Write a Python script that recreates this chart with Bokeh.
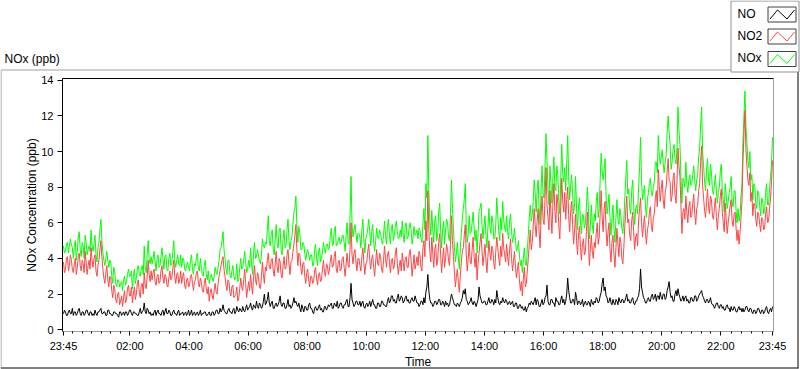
from bokeh.plotting import figure
from bokeh.models import Range1d, FixedTicker, Label
from bokeh.embed import file_html
from bokeh.resources import INLINE

# ---------------- data ----------------
minutes = list(range(0, 1441, 2))  # minutes after 23:45, 2-minute samples

no2 = [
    3.8, 3.2, 3.4, 4.0, 4.1, 3.3, 3.6, 4.2, 3.9, 3.4, 3.2, 3.7, 4.0, 3.1, 3.5, 4.1, 4.3, 3.6, 3.3, 3.9, 3.7, 3.2, 4.4, 3.8, 3.1, 3.6, 3.9, 3.4, 4.6, 3.9,
    3.5, 4.0, 4.2, 3.3, 3.0, 3.6, 3.9, 4.5, 5.0, 4.1, 3.4, 2.9, 2.6, 3.2, 3.6, 2.8, 2.4, 3.0, 2.9, 2.2, 1.8, 2.5, 2.3, 1.7, 1.5, 2.0, 2.1, 1.4, 1.6, 1.9,
    1.3, 1.8, 2.2, 1.5, 1.7, 2.3, 2.5, 1.9, 1.9, 2.4, 1.5, 2.0, 2.4, 1.7, 2.0, 2.6, 2.8, 2.1, 1.8, 2.5, 2.6, 2.0, 3.2, 2.5, 2.3, 3.0, 3.9, 3.1, 2.7, 3.3,
    2.8, 3.2, 3.4, 2.7, 2.5, 3.0, 3.1, 2.6, 2.7, 3.3, 3.6, 2.9, 2.6, 3.1, 3.0, 2.5, 2.4, 2.9, 3.3, 2.8, 2.9, 3.4, 3.9, 3.0, 2.6, 3.1, 3.2, 2.6, 2.8, 3.3,
    2.6, 3.0, 3.2, 2.5, 2.3, 2.8, 2.9, 2.4, 2.5, 3.0, 3.1, 2.6, 2.2, 2.7, 2.8, 3.2, 3.3, 2.6, 2.4, 2.9, 2.7, 2.2, 2.1, 2.6, 2.9, 2.3, 2.0, 2.4, 1.6, 2.1,
    2.3, 1.9, 1.7, 2.2, 2.6, 2.1, 2.0, 2.6, 3.0, 3.3, 3.6, 3.9, 4.1, 3.4, 3.0, 2.5, 2.2, 2.8, 2.7, 2.1, 1.9, 2.4, 2.5, 1.8, 1.9, 2.0, 2.4, 1.6, 1.8, 2.3,
    2.9, 2.4, 2.2, 2.8, 3.4, 2.6, 1.8, 2.3, 2.7, 2.2, 3.1, 2.5, 2.0, 2.9, 3.6, 2.8, 2.5, 3.2, 3.0, 2.4, 2.3, 3.0, 3.8, 3.1, 2.6, 3.5, 3.3, 3.9, 4.3, 3.5,
    3.4, 3.9, 4.0, 3.3, 3.0, 3.7, 4.4, 3.5, 3.2, 4.0, 3.8, 3.1, 2.9, 3.6, 4.1, 3.4, 3.5, 4.2, 4.5, 3.7, 3.1, 3.8, 3.9, 4.4, 4.8, 5.3, 5.9, 4.5, 3.6, 4.3,
    4.2, 3.5, 3.1, 3.7, 3.8, 3.0, 2.6, 3.2, 3.4, 2.8, 2.4, 3.0, 3.0, 2.6, 2.7, 3.3, 3.5, 2.9, 2.5, 3.1, 3.2, 2.7, 2.8, 3.4, 3.9, 3.2, 3.0, 3.7, 3.6, 3.1,
    3.3, 3.9, 4.2, 3.5, 3.6, 4.1, 4.4, 3.4, 3.2, 3.8, 3.9, 3.3, 3.4, 4.0, 4.1, 3.5, 3.0, 3.7, 4.3, 3.6, 3.5, 4.6, 6.0, 4.2, 3.7, 4.3, 4.5, 3.8, 3.3, 4.0,
    4.0, 3.6, 3.3, 4.1, 4.6, 3.8, 3.1, 3.7, 3.8, 4.4, 4.8, 3.9, 3.4, 4.0, 4.2, 3.5, 3.0, 3.8, 4.5, 3.7, 3.6, 4.3, 4.1, 3.4, 3.2, 3.9, 4.7, 4.0, 3.5, 4.2,
    4.4, 3.8, 3.2, 3.9, 4.0, 3.4, 3.6, 4.3, 4.6, 3.7, 3.1, 3.6, 3.9, 3.3, 4.3, 3.8, 3.3, 4.0, 4.1, 3.5, 3.5, 4.2, 4.5, 3.9, 3.0, 3.6, 4.2, 3.4, 3.7, 4.1,
    3.6, 4.4, 4.2, 3.5, 3.3, 4.6, 5.0, 4.1, 6.1, 5.0, 7.8, 5.6, 4.4, 3.8, 5.2, 4.3, 3.5, 4.5, 4.8, 3.6, 3.9, 4.9, 5.4, 4.2, 3.2, 4.0, 4.6, 3.5, 4.0, 4.8,
    4.5, 3.9, 3.6, 4.8, 6.4, 5.0, 4.1, 3.2, 2.4, 3.0, 3.4, 2.6, 2.1, 3.1, 3.8, 4.4, 4.6, 5.3, 5.9, 4.2, 3.3, 4.0, 4.9, 3.8, 3.7, 4.5, 5.2, 4.1, 3.5, 4.3,
    2.8, 3.7, 4.3, 4.9, 5.4, 4.4, 3.6, 4.2, 4.8, 3.9, 3.2, 4.1, 5.0, 4.3, 3.9, 4.7, 4.5, 3.7, 3.4, 4.4, 5.2, 4.6, 4.0, 3.6, 4.7, 4.1, 5.4, 4.6, 4.2, 3.8,
    4.8, 4.1, 3.6, 4.5, 5.1, 4.0, 3.3, 3.9, 4.4, 3.5, 2.9, 3.4, 3.8, 2.8, 2.2, 2.7, 1.9, 2.9, 3.5, 2.4, 2.6, 3.3, 4.0, 4.8, 5.6, 4.5, 4.9, 5.8, 6.8, 5.9,
    5.2, 6.1, 6.8, 5.5, 4.6, 6.4, 7.5, 6.2, 5.9, 7.4, 9.1, 7.0, 6.3, 5.6, 7.8, 6.5, 5.4, 7.1, 8.2, 6.7, 6.0, 7.6, 7.1, 5.8, 5.1, 6.9, 8.5, 7.2, 6.6, 7.7,
    6.2, 7.3, 8.0, 6.4, 5.5, 6.6, 7.2, 5.9, 4.8, 5.6, 6.5, 5.0, 4.2, 5.3, 5.8, 4.6, 3.9, 4.8, 5.1, 4.2, 4.4, 5.5, 6.6, 5.2, 3.6, 4.5, 5.3, 4.4, 4.0, 4.9,
    4.6, 5.4, 6.0, 4.8, 5.2, 6.5, 7.8, 6.3, 5.5, 6.8, 7.2, 5.6, 4.7, 5.5, 6.0, 4.5, 3.8, 4.9, 5.3, 4.2, 3.5, 4.6, 5.7, 4.8, 4.1, 5.2, 4.9, 4.0, 3.7, 4.6,
    5.8, 6.7, 7.5, 6.0, 6.2, 5.3, 5.0, 6.1, 6.6, 5.5, 4.5, 5.2, 5.4, 4.7, 6.1, 6.8, 7.4, 6.0, 5.2, 5.9, 6.4, 5.4, 4.8, 5.6, 5.9, 6.6, 6.9, 5.8, 5.5, 6.3,
    6.5, 7.4, 7.8, 6.9, 9.0, 8.1, 7.2, 7.9, 8.4, 7.3, 6.8, 7.7, 8.0, 8.9, 9.6, 8.4, 8.3, 7.2, 7.5, 8.5, 8.8, 7.6, 7.1, 8.3, 10.2, 9.2, 8.6, 7.0, 5.4, 6.6,
    6.8, 6.2, 7.5, 6.6, 6.0, 6.9, 7.2, 6.3, 6.4, 7.1, 7.6, 6.5, 5.9, 6.8, 7.0, 7.8, 8.2, 9.4, 10.3, 8.1, 7.4, 6.7, 6.3, 7.2, 7.9, 6.9, 6.5, 7.5, 7.3, 6.4,
    6.2, 6.9, 7.4, 6.3, 5.6, 6.4, 6.8, 7.5, 7.9, 6.6, 6.0, 5.5, 7.1, 6.2, 5.4, 6.0, 6.5, 7.0, 7.3, 6.1, 5.8, 6.5, 6.6, 5.7, 5.0, 5.6, 4.8, 5.4, 6.3, 7.2,
    9.5, 11.0, 12.3, 10.1, 9.2, 8.4, 8.1, 8.8, 7.2, 7.7, 6.4, 7.1, 7.0, 6.2, 5.8, 6.6, 6.5, 5.9, 5.5, 6.3, 6.2, 5.6, 5.7, 6.5, 6.9, 6.0, 6.1, 6.8, 7.4, 8.3,
    9.5,
]

no = [
    0.9, 1.1, 1.0, 0.8, 0.8, 1.0, 1.1, 0.9, 0.9, 1.2, 0.8, 1.0, 1.0, 0.8, 0.9, 1.1, 1.2, 0.9, 0.8, 1.0, 1.0, 0.8, 0.9, 1.1, 1.1, 0.9, 0.8, 1.0, 1.0, 0.8,
    0.9, 0.8, 1.1, 0.9, 0.8, 1.0, 1.0, 1.1, 1.2, 0.9, 0.9, 1.0, 1.0, 0.8, 0.8, 1.1, 1.1, 0.9, 0.9, 0.8, 0.8, 1.0, 1.0, 0.9, 0.9, 0.8, 0.7, 1.0, 1.0, 0.8,
    0.9, 1.0, 0.8, 1.0, 1.0, 0.8, 0.9, 1.1, 1.1, 0.9, 0.8, 1.0, 1.0, 0.9, 0.9, 0.8, 0.8, 1.0, 1.2, 0.9, 1.0, 1.1, 1.5, 1.0, 0.9, 1.2, 1.1, 0.9, 1.0, 0.8,
    0.9, 0.8, 1.0, 1.1, 0.8, 1.0, 1.1, 0.9, 0.9, 0.8, 1.0, 1.1, 0.8, 1.0, 1.2, 0.9, 0.9, 1.1, 1.0, 0.8, 0.8, 1.0, 1.1, 0.9, 0.9, 0.8, 1.0, 1.1, 0.8, 0.9,
    0.9, 1.0, 0.8, 0.9, 1.0, 0.8, 0.9, 1.1, 0.8, 0.9, 1.1, 0.8, 0.9, 1.0, 0.8, 0.9, 1.0, 0.8, 0.9, 1.1, 0.8, 0.9, 0.9, 1.0, 1.0, 0.8, 0.8, 0.9, 1.0, 0.8,
    0.8, 1.0, 1.0, 0.8, 0.9, 1.1, 1.1, 0.9, 0.9, 1.2, 1.0, 1.1, 1.4, 1.1, 1.0, 0.9, 0.9, 1.1, 1.2, 1.0, 1.0, 0.9, 1.1, 1.2, 0.9, 1.0, 1.3, 1.1, 1.0, 1.2,
    1.1, 1.0, 1.3, 1.1, 1.0, 1.2, 1.4, 1.1, 1.2, 1.3, 1.5, 1.2, 1.1, 1.4, 1.3, 1.2, 1.6, 1.3, 1.2, 1.5, 1.4, 1.2, 1.3, 1.6, 2.0, 1.4, 1.5, 1.7, 2.1, 1.5,
    1.3, 1.5, 1.6, 1.2, 1.2, 1.4, 1.5, 1.3, 1.4, 1.6, 1.9, 1.4, 1.3, 1.5, 1.5, 1.2, 1.2, 1.4, 1.7, 1.3, 1.4, 1.2, 1.3, 1.5, 1.8, 1.5, 1.6, 1.4, 1.3, 1.5,
    1.2, 1.0, 1.4, 1.2, 1.0, 1.3, 1.3, 1.1, 1.1, 1.4, 1.5, 1.2, 1.2, 1.0, 0.9, 1.2, 1.3, 1.1, 1.1, 1.3, 1.4, 1.1, 1.2, 1.0, 1.0, 1.3, 1.3, 1.1, 1.2, 1.4,
    1.3, 1.4, 1.5, 1.2, 1.2, 1.5, 1.4, 1.3, 1.6, 1.2, 1.3, 1.5, 1.5, 1.3, 1.2, 1.4, 1.4, 1.6, 1.7, 1.3, 1.3, 1.8, 2.6, 1.7, 1.5, 1.3, 1.4, 1.6, 1.6, 1.4,
    1.4, 1.6, 1.3, 1.5, 1.6, 1.3, 1.2, 1.4, 1.5, 1.3, 1.4, 1.6, 1.3, 1.5, 1.7, 1.4, 1.4, 1.2, 1.2, 1.5, 1.5, 1.3, 1.3, 1.6, 1.6, 1.4, 1.4, 1.3, 1.3, 1.6,
    1.8, 1.5, 1.6, 1.9, 1.9, 1.6, 1.7, 1.5, 1.5, 1.8, 2.0, 1.6, 1.7, 1.9, 1.8, 1.5, 1.6, 1.8, 1.9, 1.6, 1.7, 1.5, 1.5, 1.7, 1.8, 1.6, 1.6, 1.9, 1.7, 1.5,
    1.5, 1.3, 1.4, 1.6, 1.6, 1.4, 1.8, 1.5, 2.1, 2.4, 3.1, 2.2, 1.7, 1.5, 1.5, 1.3, 1.4, 1.6, 1.6, 1.4, 1.5, 1.7, 1.7, 1.4, 1.4, 1.6, 1.5, 1.3, 1.6, 1.4,
    1.5, 1.3, 1.4, 1.7, 2.0, 1.8, 1.6, 1.4, 1.4, 1.3, 1.5, 1.4, 1.3, 1.5, 1.6, 1.8, 2.2, 2.0, 2.3, 1.7, 1.6, 1.4, 1.5, 1.6, 1.8, 1.5, 1.4, 1.6, 1.5, 1.3,
    1.5, 1.7, 2.4, 1.9, 1.7, 1.5, 1.5, 1.6, 1.6, 1.4, 1.4, 1.6, 1.8, 1.5, 1.5, 1.7, 1.6, 1.4, 1.7, 1.5, 2.2, 1.8, 1.5, 1.4, 1.6, 1.5, 1.8, 1.6, 1.5, 1.7,
    1.6, 1.4, 1.5, 1.6, 1.4, 1.5, 1.6, 1.3, 1.3, 1.5, 1.5, 1.2, 1.2, 1.4, 1.4, 1.2, 1.3, 1.1, 1.1, 1.3, 1.0, 1.2, 1.3, 1.5, 1.4, 1.6, 1.5, 1.4, 1.6, 1.8,
    1.4, 1.7, 1.6, 1.3, 1.3, 1.5, 1.7, 1.4, 1.5, 1.8, 1.9, 2.5, 1.6, 1.4, 1.4, 1.7, 1.7, 1.5, 1.5, 1.3, 1.8, 1.6, 1.6, 1.4, 1.4, 1.7, 1.9, 1.5, 1.7, 1.4,
    1.6, 2.0, 2.9, 2.2, 1.8, 1.5, 1.5, 1.7, 1.7, 1.4, 2.1, 1.8, 1.4, 1.6, 1.6, 1.4, 1.5, 1.7, 1.3, 1.5, 1.6, 1.4, 1.4, 1.6, 1.5, 1.3, 1.7, 1.5, 1.4, 1.6,
    1.5, 1.8, 1.7, 1.5, 1.6, 1.9, 2.1, 2.6, 2.9, 2.2, 2.4, 1.9, 1.8, 1.5, 1.6, 1.8, 1.5, 1.4, 1.7, 1.5, 1.4, 1.7, 1.6, 1.4, 1.8, 1.6, 1.5, 1.7, 1.7, 1.5,
    1.6, 1.8, 2.0, 1.6, 1.7, 1.5, 1.5, 1.7, 1.8, 1.5, 1.4, 1.6, 1.6, 1.8, 1.9, 2.3, 3.4, 2.4, 2.1, 1.8, 1.7, 1.5, 1.5, 1.7, 1.8, 1.6, 1.6, 1.9, 2.0, 1.7,
    1.8, 2.0, 1.6, 1.9, 1.9, 1.7, 2.1, 1.8, 1.7, 2.0, 2.0, 1.7, 1.8, 2.2, 2.4, 2.7, 2.1, 1.8, 1.9, 1.6, 1.6, 2.0, 2.2, 1.9, 2.3, 2.0, 1.8, 1.6, 1.7, 1.9,
    1.6, 1.8, 1.9, 1.6, 1.7, 1.5, 1.5, 1.8, 1.8, 1.6, 1.6, 1.9, 1.9, 1.6, 1.7, 1.9, 2.0, 2.1, 2.2, 1.9, 1.8, 1.6, 1.5, 1.7, 1.7, 1.5, 1.6, 1.8, 1.5, 1.4,
    1.4, 1.2, 1.3, 1.5, 1.5, 1.3, 1.2, 1.4, 1.4, 1.2, 1.3, 1.1, 1.1, 1.3, 1.4, 1.2, 1.2, 1.0, 1.3, 1.1, 1.1, 1.3, 1.2, 1.0, 1.0, 1.2, 1.3, 1.1, 1.2, 1.0,
    1.2, 1.0, 1.1, 1.3, 1.3, 1.1, 1.0, 1.2, 1.2, 1.0, 0.9, 1.1, 1.1, 0.9, 1.0, 1.2, 1.2, 1.0, 0.9, 1.1, 1.1, 0.9, 1.0, 1.2, 1.3, 1.0, 0.9, 1.1, 1.2, 1.0,
    1.3,
]

nox = [
    4.7, 4.3, 4.4, 4.8, 4.9, 4.3, 4.7, 5.1, 4.8, 4.6, 4.0, 4.7, 5.0, 3.9, 4.4, 5.2, 5.5, 4.5, 4.1, 4.9, 4.7, 4.0, 5.3, 4.9, 4.2, 4.5, 4.7, 4.4, 5.6, 4.7,
    4.4, 4.8, 5.3, 4.2, 3.8, 4.6, 4.9, 5.6, 6.2, 5.0, 4.3, 3.9, 3.6, 4.0, 4.4, 3.9, 3.5, 3.9, 3.8, 3.0, 2.6, 3.5, 3.3, 2.6, 2.4, 2.8, 2.8, 2.4, 2.6, 2.7,
    2.2, 2.8, 3.0, 2.5, 2.7, 3.1, 3.4, 3.0, 3.0, 3.3, 2.3, 3.0, 3.4, 2.6, 2.9, 3.4, 3.6, 3.1, 3.0, 3.4, 3.6, 3.1, 4.7, 3.5, 3.2, 4.2, 5.0, 4.0, 3.7, 4.1,
    3.7, 4.0, 4.4, 3.8, 3.3, 4.0, 4.2, 3.5, 3.6, 4.1, 4.6, 4.0, 3.4, 4.1, 4.2, 3.4, 3.3, 4.0, 4.3, 3.6, 3.7, 4.4, 5.0, 3.9, 3.5, 3.9, 4.2, 3.7, 3.6, 4.2,
    3.5, 4.0, 4.0, 3.4, 3.3, 3.6, 3.8, 3.5, 3.3, 3.9, 4.2, 3.4, 3.1, 3.7, 3.6, 4.1, 4.3, 3.4, 3.3, 4.0, 3.5, 3.1, 3.0, 3.6, 3.9, 3.1, 2.8, 3.3, 2.6, 2.9,
    3.1, 2.9, 2.7, 3.0, 3.5, 3.2, 3.1, 3.5, 3.9, 4.5, 4.6, 5.0, 5.5, 4.5, 4.0, 3.4, 3.1, 3.9, 3.9, 3.1, 2.9, 3.3, 3.6, 3.0, 2.8, 3.0, 3.7, 2.7, 2.8, 3.5,
    4.0, 3.4, 3.5, 3.9, 4.4, 3.8, 3.2, 3.4, 3.9, 3.5, 4.6, 3.7, 3.1, 4.3, 4.9, 4.0, 4.1, 4.5, 4.2, 3.9, 3.7, 4.2, 5.1, 4.7, 4.6, 4.9, 4.8, 5.6, 6.4, 5.0,
    4.7, 5.4, 5.6, 4.5, 4.2, 5.1, 5.9, 4.8, 4.6, 5.6, 5.7, 4.5, 4.2, 5.1, 5.6, 4.6, 4.7, 5.6, 6.2, 5.0, 4.5, 5.0, 5.2, 5.9, 6.6, 6.8, 7.5, 5.9, 4.9, 5.8,
    5.4, 4.5, 4.5, 4.9, 4.8, 4.3, 3.9, 4.3, 4.5, 4.2, 3.9, 4.2, 4.2, 3.6, 3.6, 4.5, 4.8, 4.0, 3.6, 4.4, 4.6, 3.8, 4.0, 4.4, 4.9, 4.5, 4.3, 4.8, 4.8, 4.5,
    4.6, 5.3, 5.7, 4.7, 4.8, 5.6, 5.8, 4.7, 4.8, 5.0, 5.2, 4.8, 4.9, 5.3, 5.3, 4.9, 4.4, 5.3, 6.0, 4.9, 4.8, 6.4, 8.6, 5.9, 5.2, 5.6, 5.9, 5.4, 4.9, 5.4,
    5.4, 5.2, 4.6, 5.6, 6.2, 5.1, 4.3, 5.1, 5.3, 5.7, 6.2, 5.5, 4.7, 5.5, 5.9, 4.9, 4.4, 5.0, 5.7, 5.2, 5.1, 5.6, 5.4, 5.0, 4.8, 5.3, 6.1, 5.3, 4.8, 5.8,
    6.2, 5.3, 4.8, 5.8, 5.9, 5.0, 5.3, 5.8, 6.1, 5.5, 5.1, 5.2, 5.6, 5.2, 6.1, 5.3, 4.9, 5.8, 6.0, 5.1, 5.2, 5.7, 6.0, 5.6, 4.8, 5.2, 5.8, 5.3, 5.4, 5.6,
    5.1, 5.7, 5.6, 5.1, 4.9, 6.0, 6.8, 5.6, 8.2, 7.4, 10.9, 7.8, 6.1, 5.3, 6.7, 5.6, 4.9, 6.1, 6.4, 5.0, 5.4, 6.6, 7.1, 5.6, 4.6, 5.6, 6.1, 4.8, 5.6, 6.2,
    6.0, 5.2, 5.0, 6.5, 8.4, 6.8, 5.7, 4.6, 3.8, 4.3, 4.9, 4.0, 3.4, 4.6, 5.4, 6.2, 6.8, 7.3, 8.2, 5.9, 4.9, 5.4, 6.4, 5.4, 5.5, 6.0, 6.6, 5.7, 5.0, 5.6,
    4.3, 5.4, 6.7, 6.8, 7.1, 5.9, 5.1, 5.8, 6.4, 5.3, 4.6, 5.7, 6.8, 5.8, 5.4, 6.4, 6.1, 5.1, 5.1, 5.9, 7.4, 6.4, 5.5, 5.0, 6.3, 5.6, 7.2, 6.2, 5.7, 5.5,
    6.4, 5.5, 5.1, 6.1, 6.5, 5.5, 4.9, 5.2, 5.7, 5.0, 4.4, 4.6, 5.0, 4.2, 3.6, 3.9, 3.2, 4.0, 4.6, 3.7, 3.6, 4.5, 5.3, 6.3, 7.0, 6.1, 6.4, 7.2, 8.4, 7.7,
    6.6, 7.8, 8.4, 6.8, 5.9, 7.9, 9.2, 7.6, 7.4, 9.2, 11.0, 9.5, 7.9, 7.0, 9.2, 8.2, 7.1, 8.6, 9.7, 8.0, 7.8, 9.2, 8.7, 7.2, 6.5, 8.6, 10.4, 8.7, 8.3, 9.1,
    7.8, 9.3, 10.9, 8.6, 7.3, 8.1, 8.7, 7.6, 6.5, 7.0, 8.6, 6.8, 5.6, 6.9, 7.4, 6.0, 5.4, 6.5, 6.4, 5.7, 6.0, 6.9, 8.0, 6.8, 5.1, 5.8, 7.0, 5.9, 5.4, 6.5,
    6.1, 7.2, 7.7, 6.3, 6.8, 8.4, 9.9, 8.9, 8.4, 9.0, 9.6, 7.5, 6.5, 7.0, 7.6, 6.3, 5.3, 6.3, 7.0, 5.7, 4.9, 6.3, 7.3, 6.2, 5.9, 6.8, 6.4, 5.7, 5.4, 6.1,
    7.4, 8.5, 9.5, 7.6, 7.9, 6.8, 6.5, 7.8, 8.4, 7.0, 5.9, 6.8, 7.0, 6.5, 8.0, 9.1, 10.8, 8.4, 7.3, 7.7, 8.1, 6.9, 6.3, 7.3, 7.7, 8.2, 8.5, 7.7, 7.5, 8.0,
    8.3, 9.4, 9.4, 8.8, 10.9, 9.8, 9.3, 9.7, 10.1, 9.3, 8.8, 9.4, 9.8, 11.1, 12.0, 11.1, 10.4, 9.0, 9.4, 10.1, 10.4, 9.6, 9.3, 10.2, 12.5, 11.2, 10.4, 8.6, 7.1, 8.5,
    8.4, 8.0, 9.4, 8.2, 7.7, 8.4, 8.7, 8.1, 8.2, 8.7, 9.2, 8.4, 7.8, 8.4, 8.7, 9.7, 10.2, 11.5, 12.5, 10.0, 9.2, 8.3, 7.8, 8.9, 9.6, 8.4, 8.1, 9.3, 8.8, 7.8,
    7.6, 8.1, 8.7, 7.8, 7.1, 7.7, 8.0, 8.9, 9.3, 7.8, 7.3, 6.6, 8.2, 7.5, 6.8, 7.2, 7.7, 8.0, 8.6, 7.2, 6.9, 7.8, 7.8, 6.7, 6.0, 6.8, 6.1, 6.5, 7.5, 8.2,
    10.7, 12.0, 13.4, 11.4, 10.5, 9.5, 9.1, 10.0, 8.4, 8.7, 7.3, 8.2, 8.1, 7.1, 6.8, 7.8, 7.7, 6.9, 6.4, 7.4, 7.3, 6.5, 6.7, 7.7, 8.2, 7.0, 7.0, 7.9, 8.6, 9.3,
    10.8,
]

tick_minutes = [0, 135, 255, 375, 495, 615, 735, 855, 975, 1095, 1215, 1335, 1440]
tick_labels = ["23:45", "02:00", "04:00", "06:00", "08:00", "10:00", "12:00",
               "14:00", "16:00", "18:00", "20:00", "22:00", "23:45"]
y_ticks = [0, 2, 4, 6, 8, 10, 12, 14]

series_names = ["NO", "NO2", "NOx"]
series_colors = ["#000000", "#FF4545", "#00FF00"]

chart_title = "NOx (ppb)"
y_title = "NOx Concentration (ppb)"
x_title = "Time"

# ---------------- layout (pixels) ----------------
FONT = "Liberation Sans"
W, H = 800, 369
XMIN, XMAX = -2, 1442      # data extent of the plot area
YMIN, YMAX = -0.1, 14.1
PL, PR, PT, PB = 62, 773, 78, 331   # plot area edges in pixels

kx = (PR - PL) / (XMAX - XMIN)
ky = (PB - PT) / (YMAX - YMIN)


def dx(px):
    return XMIN + (px - PL) / kx


def dy(py):
    return YMAX - (py - PT) / ky


p = figure(width=W, height=H, output_backend="svg", toolbar_location=None,
           x_range=Range1d(dx(0), dx(W)), y_range=Range1d(dy(H), dy(0)),
           min_border=0, min_border_left=0, min_border_right=0,
           min_border_top=0, min_border_bottom=0,
           background_fill_color="white", border_fill_color="white",
           outline_line_color=None)
p.grid.visible = False

# ---------- outer sunken panel ----------
p.quad(left=[dx(0.5)], right=[dx(797.5)], top=[dy(69.5)], bottom=[dy(367.5)],
       fill_color=None, line_color="#a0a0a0", line_width=1)
p.segment(x0=[dx(0), dx(797.5)], y0=[dy(367.5), dy(69)], x1=[dx(798), dx(797.5)],
          y1=[dy(367.5), dy(368)], line_color="#303030", line_width=1)

# ---------- plot frame edges (top dark, right light) ----------
p.segment(x0=[XMIN], y0=[YMAX], x1=[XMAX], y1=[YMAX], line_color="black", line_width=1)
p.segment(x0=[XMAX], y0=[YMIN], x1=[XMAX], y1=[YMAX], line_color="#a0a0a0", line_width=1)

# ---------- data ----------
series = {"NO": no, "NO2": no2, "NOx": nox}
color_of = dict(zip(series_names, series_colors))
for name in ["NOx", "NO2", "NO"]:
    p.line(minutes, series[name], line_color=color_of[name], line_width=1)

# ---------- axes drawn at the plot-area edges ----------
minor = []
for a, b in zip(tick_minutes[:-1], tick_minutes[1:]):
    n = max(1, round((b - a) / 20))
    minor += [a + (b - a) * k / n for k in range(1, n)]

xa = p.xaxis[0]
xa.fixed_location = YMIN
xa.bounds = (XMIN, XMAX)
xa.ticker = FixedTicker(ticks=tick_minutes, minor_ticks=minor)
xa.major_label_overrides = {t: l for t, l in zip(tick_minutes, tick_labels)}
xa.axis_line_color = "#a0a0a0"
xa.major_tick_line_color = "black"
xa.minor_tick_line_color = "black"
xa.major_tick_out, xa.major_tick_in = 4, 0
xa.minor_tick_out, xa.minor_tick_in = 2, 0
xa.major_label_standoff = 4
xa.axis_label = x_title
xa.axis_label_standoff = 0

ya = p.yaxis[0]
ya.fixed_location = XMIN
ya.bounds = (YMIN, YMAX)
ya.ticker = FixedTicker(ticks=y_ticks, minor_ticks=[])
ya.axis_line_color = "black"
ya.major_tick_line_color = "black"
ya.major_tick_out, ya.major_tick_in = 5, 0
ya.minor_tick_line_color = None
ya.major_label_standoff = 4
ya.axis_label = y_title
ya.axis_label_standoff = -1

for ax in (xa, ya):
    ax.major_label_text_font = FONT
    ax.major_label_text_font_size = "11px"
    ax.major_label_text_color = "black"
    ax.axis_label_text_font = FONT
    ax.axis_label_text_font_size = "12px"
    ax.axis_label_text_font_style = "normal"
    ax.axis_label_text_color = "black"

# ---------- chart title ----------
p.add_layout(Label(x=dx(4), y=dy(58.5), text=chart_title, text_font=FONT,
                   text_font_size="12px", text_color="black", text_baseline="middle"))

# ---------- legend (top right) ----------
p.quad(left=[dx(730.5)], right=[dx(798.5)], top=[dy(0.5)], bottom=[dy(71.5)],
       fill_color="white", line_color="#909090", line_width=1)
row_centers = [14, 36, 58.5]
for cy, name, col in zip(row_centers, series_names, series_colors):
    p.quad(left=[dx(767.5)], right=[dx(795.5)], top=[dy(cy - 7.5)], bottom=[dy(cy + 7.5)],
           fill_color="white", line_color="#404040", line_width=1)
    p.line([dx(769.5), dx(777), dx(786.5), dx(794)],
           [dy(cy + 4.5), dy(cy - 4.5), dy(cy + 4.5), dy(cy - 4.5)],
           line_color=col, line_width=1)
    p.add_layout(Label(x=dx(737), y=dy(cy - 1), text=name, text_font=FONT,
                       text_font_size="12px", text_color="black", text_baseline="middle"))

open("out.html", "w").write(file_html(p, INLINE))
